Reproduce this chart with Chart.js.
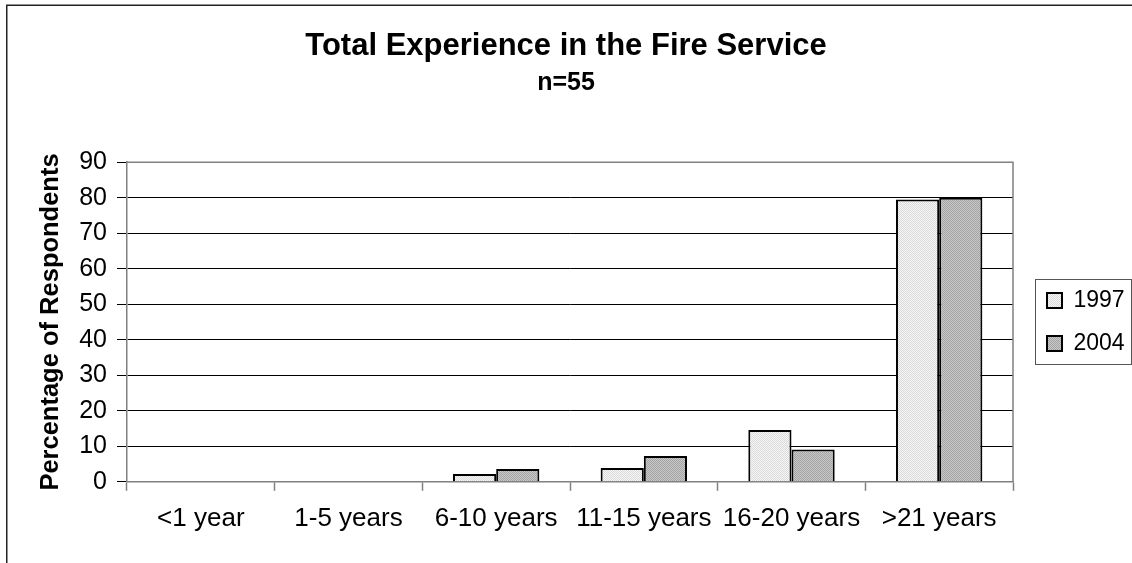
<!DOCTYPE html>
<html>
<head>
<meta charset="utf-8">
<script src="https://cdn.jsdelivr.net/npm/chart.js@4.4.1/dist/chart.umd.min.js"></script>
<style>
  html, body { margin: 0; padding: 0; background: #fff; }
  #wrap { width: 1132px; height: 563px; position: relative; }
</style>
</head>
<body>
<div id="wrap"><canvas id="expChart"></canvas></div>
<script>
const categories = ["<1 year", "1-5 years", "6-10 years", "11-15 years", "16-20 years", ">21 years"];
const seriesNames = ["1997", "2004"];
const values1997 = [0, 0, 2.2, 3.9, 14.6, 79.5];
const values2004 = [0, 0, 3.6, 7.3, 9.1, 80.0];
const yMin = 0;
const yMax = 90;
const yStep = 10;

const FONT = "'Liberation Sans', Arial, sans-serif";

// small checker patterns like the old office fills
function makePattern(c1, c2) {
  const p = document.createElement("canvas");
  p.width = 2;
  p.height = 2;
  const pc = p.getContext("2d");
  pc.fillStyle = c1;
  pc.fillRect(0, 0, 2, 2);
  pc.fillStyle = c2;
  pc.fillRect(0, 0, 1, 1);
  pc.fillRect(1, 1, 1, 1);
  return pc.createPattern(p, "repeat");
}

const fill1997 = makePattern("#f6f6f6", "#dadada");
const fill2004 = makePattern("#c8c8c8", "#a4a4a4");

const framePlugin = {
  id: "frame",
  beforeLayout(chart) {
    // fixed legend width so it sits where the original one does
    const lg = chart.legend;
    if (lg && !lg._fixedFit) {
      const origFit = lg.fit;
      lg.fit = function () {
        origFit.call(this);
        if (!this.isHorizontal()) this.width = 105;
      };
      lg._fixedFit = true;
    }
  },
  beforeDatasetsDraw(chart) {
    const { ctx, chartArea } = chart;
    ctx.save();
    ctx.strokeStyle = "#808080";
    ctx.lineWidth = 1.5;
    ctx.beginPath();
    ctx.moveTo(chartArea.left, chartArea.top);
    ctx.lineTo(chartArea.right, chartArea.top);
    ctx.lineTo(chartArea.right, chartArea.bottom);
    ctx.stroke();
    ctx.restore();
  },
  afterDraw(chart) {
    const { ctx } = chart;
    ctx.save();
    // outer chart frame (left and top edges only visible)
    ctx.strokeStyle = "#222";
    ctx.lineWidth = 1.5;
    ctx.beginPath();
    ctx.moveTo(6.75, chart.height);
    ctx.lineTo(6.75, 5.25);
    ctx.lineTo(chart.width, 5.25);
    ctx.stroke();

    // legend border
    const boxes = chart.legend && chart.legend.legendHitBoxes;
    if (boxes && boxes.length) {
      let l = Infinity, t = Infinity, r = -Infinity, b = -Infinity;
      boxes.forEach(h => {
        l = Math.min(l, h.left);
        t = Math.min(t, h.top);
        r = Math.max(r, h.left + h.width);
        b = Math.max(b, h.top + h.height);
      });
      ctx.strokeStyle = "#555";
      ctx.lineWidth = 1;
      ctx.strokeRect(Math.round(l - 12) + 0.5, Math.round(t - 10) + 0.5,
        Math.round(r - l + 18), Math.round(b - t + 19));
    }
    ctx.restore();
  }
};

const ctx = document.getElementById("expChart").getContext("2d");

new Chart(ctx, {
  type: "bar",
  data: {
    labels: categories,
    datasets: [
      {
        label: seriesNames[0],
        data: values1997,
        backgroundColor: fill1997,
        borderColor: "#000",
        borderWidth: 2,
        categoryPercentage: 0.585,
        barPercentage: 1.0
      },
      {
        label: seriesNames[1],
        data: values2004,
        backgroundColor: fill2004,
        borderColor: "#000",
        borderWidth: 2,
        categoryPercentage: 0.585,
        barPercentage: 1.0
      }
    ]
  },
  options: {
    responsive: true,
    maintainAspectRatio: false,
    animation: false,
    layout: {
      padding: { left: 0, right: 0, top: 0, bottom: 17 }
    },
    plugins: {
      title: {
        display: true,
        text: "Total Experience in the Fire Service",
        color: "#000",
        font: { family: FONT, size: 31, weight: "bold" },
        padding: { top: 28, bottom: 2 }
      },
      subtitle: {
        display: true,
        text: "n=55",
        color: "#000",
        font: { family: FONT, size: 25, weight: "bold" },
        padding: { top: 1, bottom: 64 }
      },
      legend: {
        display: true,
        position: "right",
        fullSize: false,
        labels: {
          color: "#000",
          font: { family: FONT, size: 23 },
          boxWidth: 15,
          boxHeight: 15,
          padding: 20
        }
      },
      tooltip: { enabled: false }
    },
    scales: {
      x: {
        offset: true,
        grid: {
          offset: true,
          drawOnChartArea: false,
          drawTicks: true,
          tickLength: 9,
          tickColor: "#808080",
          tickWidth: 1.5
        },
        border: { display: true, color: "#808080", width: 1.5 },
        ticks: {
          color: "#000",
          font: { family: FONT, size: 26 },
          padding: 12,
          maxRotation: 0,
          autoSkip: false
        }
      },
      y: {
        min: yMin,
        max: yMax,
        afterFit(scale) { scale.width = 127; },
        title: {
          display: true,
          text: "Percentage of Respondents",
          color: "#000",
          font: { family: FONT, size: 25.5, weight: "bold" },
          padding: { top: 36, bottom: 0 }
        },
        grid: {
          color: c => (c.tick && c.tick.value === yMax ? "#808080" : "#000"),
          lineWidth: 1,
          drawTicks: true,
          tickLength: 10,
          tickColor: "#000"
        },
        border: { display: true, color: "#808080", width: 1.5 },
        ticks: {
          stepSize: yStep,
          color: "#000",
          font: { family: FONT, size: 25 },
          padding: 10
        }
      },
      // empty right-hand axis: only keeps a gap between plot and legend
      gap: {
        type: "linear",
        position: "right",
        display: true,
        afterFit(scale) { scale.width = 14; },
        grid: { display: false, drawTicks: false },
        border: { display: false },
        ticks: { display: false }
      }
    }
  },
  plugins: [framePlugin]
});
</script>
</body>
</html>
